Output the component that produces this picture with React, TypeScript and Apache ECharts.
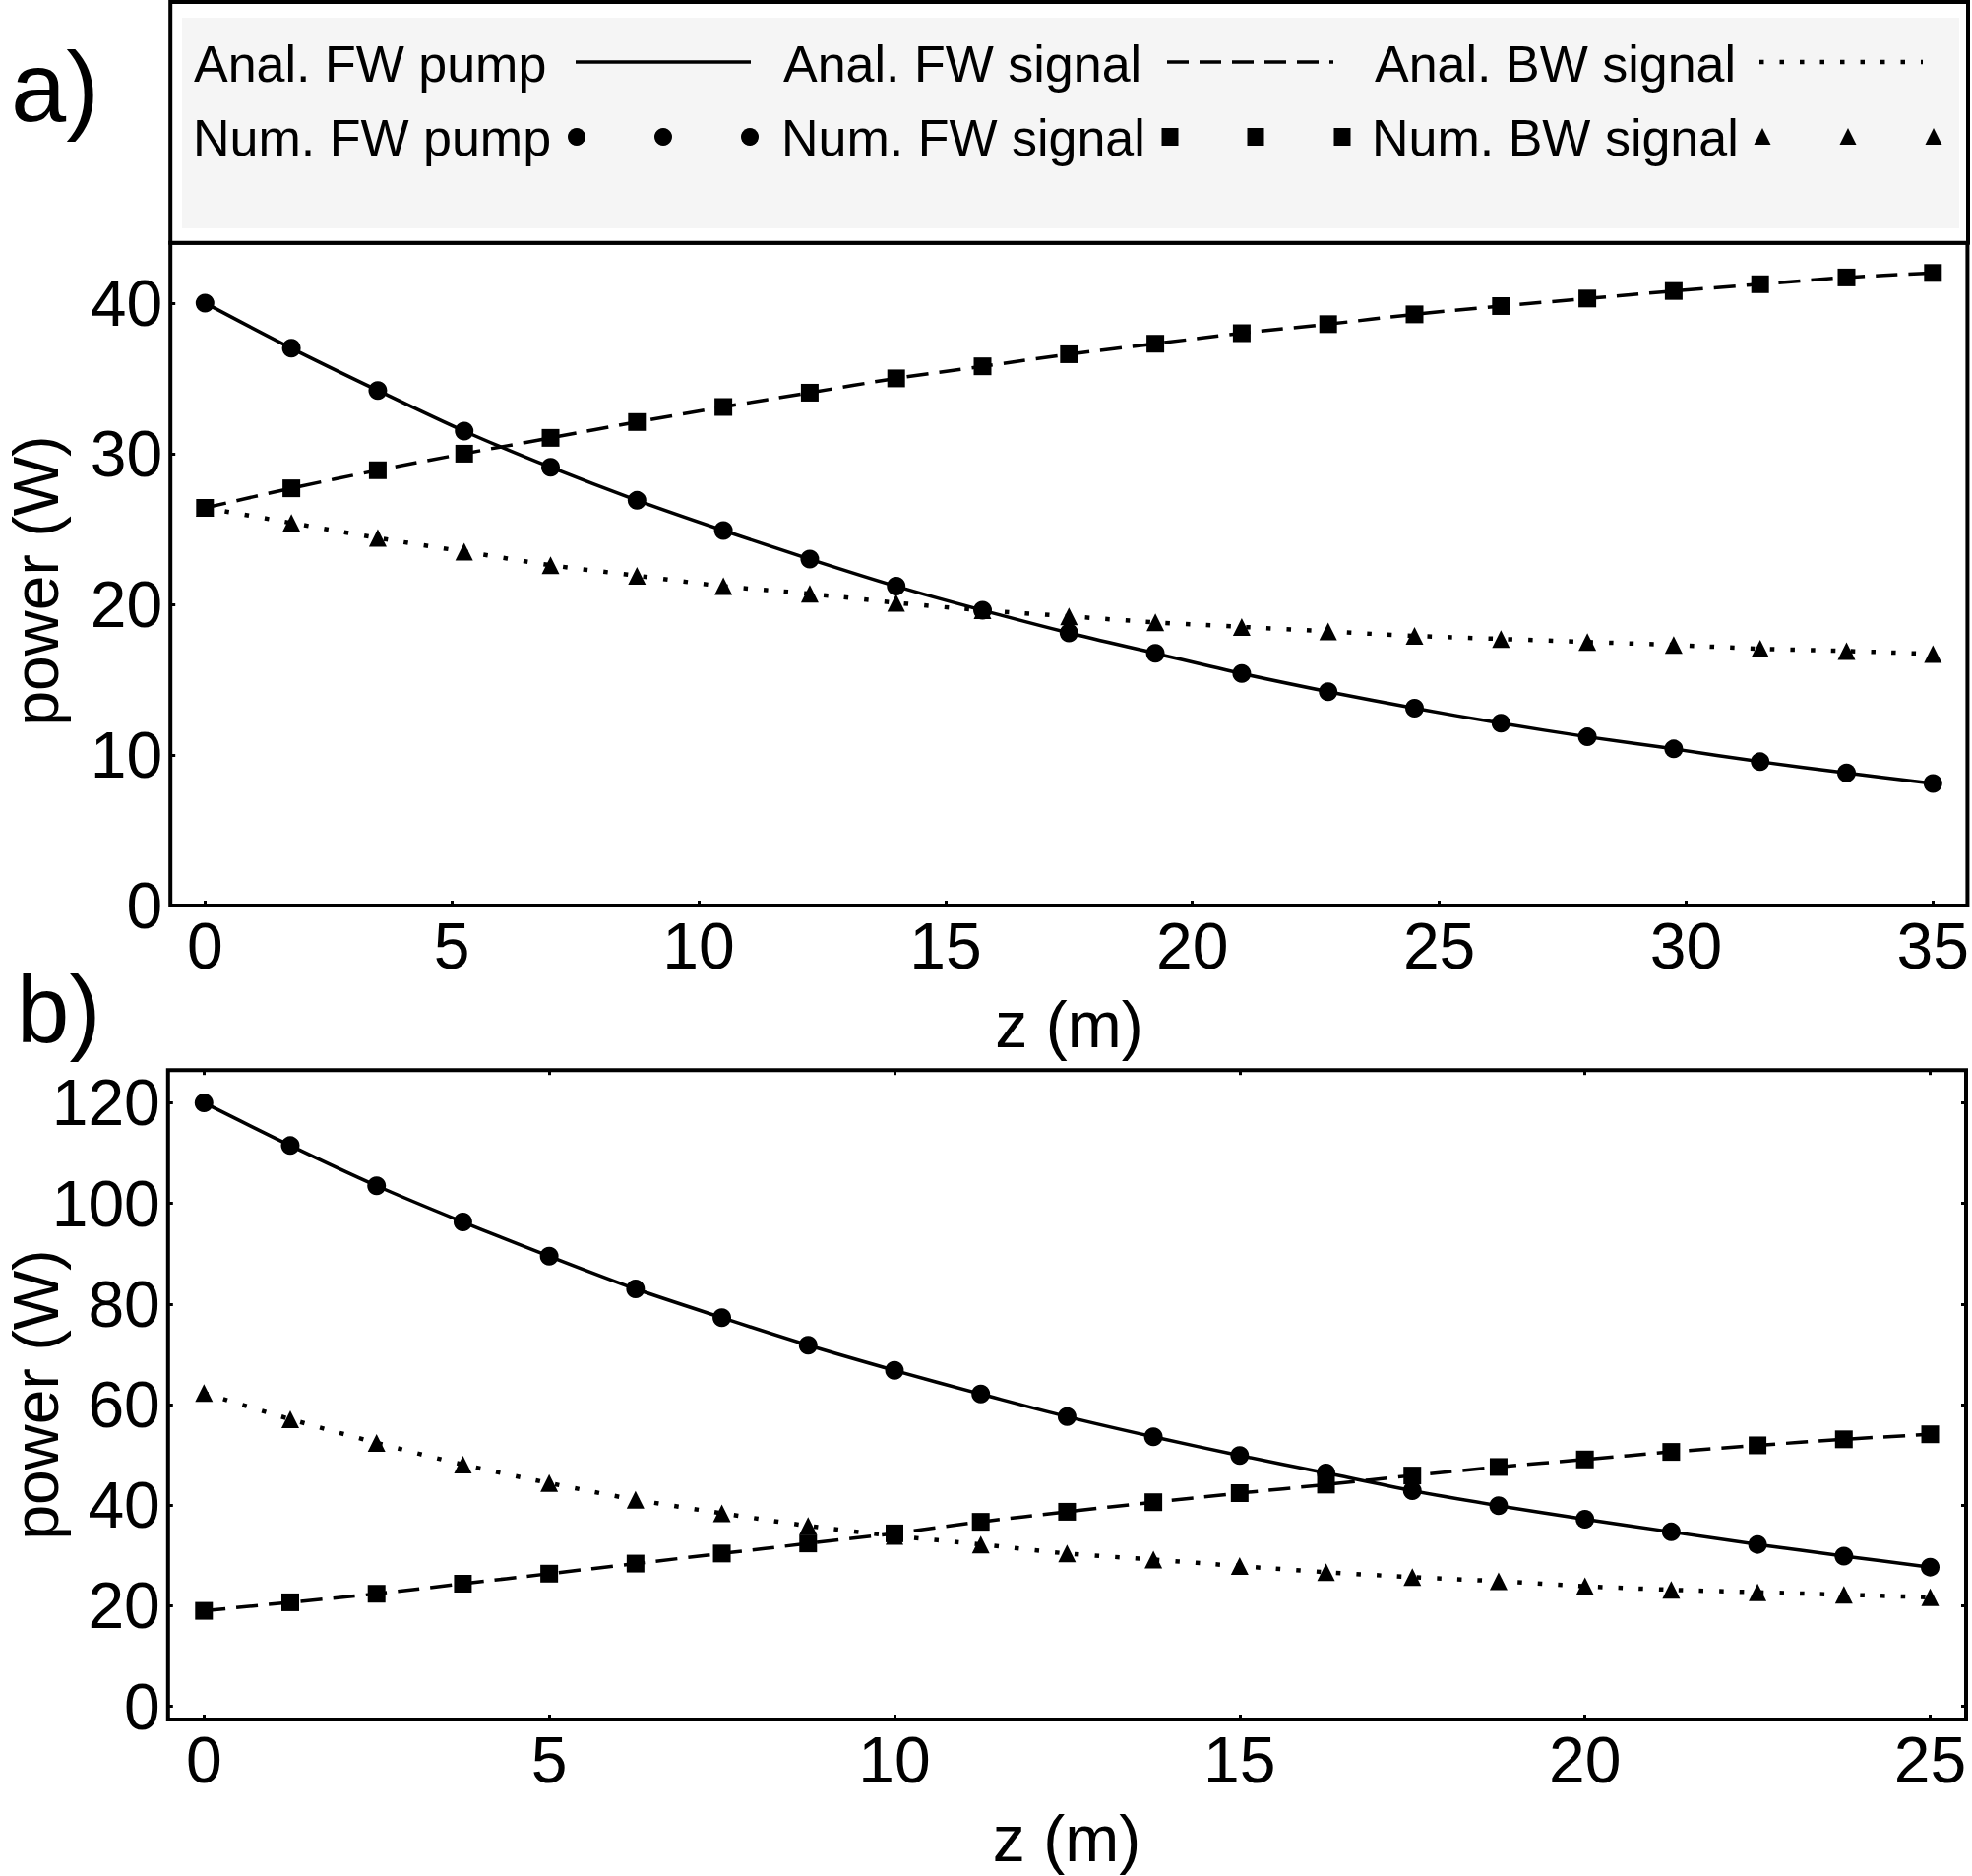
import React, { useEffect, useRef } from "react";
import * as echarts from "echarts";

// ---------- data (panel a) ----------
const zA = [0, 1.75, 3.5, 5.25, 7, 8.75, 10.5, 12.25, 14, 15.75, 17.5, 19.25, 21, 22.75, 24.5, 26.25, 28, 29.75, 31.5, 33.25, 35];
const pumpA = [40.0, 37.0, 34.2, 31.5, 29.1, 26.9, 24.9, 23.0, 21.2, 19.6, 18.1, 16.75, 15.4, 14.2, 13.1, 12.1, 11.2, 10.4, 9.55, 8.8, 8.1];
const signalA = [26.4, 27.7, 28.9, 30.0, 31.05, 32.1, 33.1, 34.05, 35.0, 35.8, 36.6, 37.3, 38.0, 38.6, 39.25, 39.8, 40.3, 40.8, 41.25, 41.7, 42.0];
const bwA = [26.4, 25.4, 24.4, 23.5, 22.6, 21.9, 21.2, 20.7, 20.1, 19.6, 19.2, 18.8, 18.5, 18.2, 17.9, 17.7, 17.5, 17.3, 17.05, 16.9, 16.7];

// ---------- data (panel b) ----------
const zB = [0, 1.25, 2.5, 3.75, 5, 6.25, 7.5, 8.75, 10, 11.25, 12.5, 13.75, 15, 16.25, 17.5, 18.75, 20, 21.25, 22.5, 23.75, 25];
const pumpB = [120, 111.5, 103.5, 96.3, 89.5, 83.0, 77.3, 71.8, 66.8, 62.1, 57.6, 53.6, 49.9, 46.4, 42.9, 39.9, 37.2, 34.7, 32.2, 29.9, 27.7];
const signalB = [19.0, 20.7, 22.4, 24.4, 26.4, 28.4, 30.4, 32.4, 34.4, 36.7, 38.7, 40.6, 42.4, 44.1, 45.9, 47.6, 49.1, 50.6, 51.9, 53.1, 54.1];
const bwB = [62.3, 57.1, 52.4, 48.1, 44.4, 41.1, 38.4, 35.9, 33.9, 32.2, 30.4, 29.2, 27.9, 26.7, 25.7, 24.9, 23.9, 23.2, 22.7, 22.2, 21.7];

// ---------- ticks ----------
const ticksXA = [0, 5, 10, 15, 20, 25, 30, 35];
const ticksYA = [0, 10, 20, 30, 40];
const ticksXB = [0, 5, 10, 15, 20, 25];
const ticksYB = [0, 20, 40, 60, 80, 100, 120];

// ---------- texts ----------
const legendRow1 = ["Anal. FW pump", "Anal. FW signal", "Anal. BW signal"];
const legendRow2 = ["Num. FW pump", "Num. FW signal", "Num. BW signal"];
const xTitle = "z (m)";
const yTitle = "power (W)";

const FONT = '"Liberation Sans", Arial, Helvetica, sans-serif';
const BLACK = "#000";
const DASH: number[] = [22, 11];
const DOT: number[] = [4.5, 16];

function pairs(x: number[], y: number[]) {
  return x.map((v, i) => [v, y[i]]);
}

function lineS(x: number[], y: number[], gi: number, type: any, width: number) {
  return {
    type: "line",
    xAxisIndex: gi === 0 ? 0 : 1,
    yAxisIndex: gi === 0 ? 0 : 1,
    data: pairs(x, y),
    showSymbol: false,
    smooth: 0.3,
    silent: true,
    lineStyle: { color: BLACK, width, type, cap: "butt" },
    z: 2,
  };
}

function scatterS(x: number[], y: number[], gi: number, symbol: string, size: any, z: number) {
  return {
    type: "scatter",
    xAxisIndex: gi === 0 ? 0 : 1,
    yAxisIndex: gi === 0 ? 0 : 1,
    data: pairs(x, y),
    symbol,
    symbolSize: size,
    silent: true,
    itemStyle: { color: BLACK, opacity: 1 },
    z,
  };
}

function valAxis(gridIndex: number, min: number, max: number, ticks: number[], position: string, showLabel: boolean) {
  return {
    type: "value",
    gridIndex,
    position,
    min,
    max,
    axisLine: { show: false, onZero: false },
    splitLine: { show: false },
    axisTick: {
      show: true,
      inside: true,
      length: 5,
      customValues: ticks,
      lineStyle: { color: BLACK, width: 3 },
    },
    axisLabel: {
      show: showLabel,
      customValues: ticks,
      color: BLACK,
      fontSize: 66,
      fontFamily: FONT,
      margin: 8,
    },
  };
}

function txt(text: string, x: number, y: number, size: number, align = "left", rotation = 0) {
  return {
    type: "text",
    x,
    y,
    rotation,
    z: 10,
    style: {
      text,
      fill: BLACK,
      fontSize: size,
      fontFamily: FONT,
      align,
      verticalAlign: "middle",
      textAlign: align,
      textVerticalAlign: "middle",
    },
  };
}

function buildLegend() {
  const els: any[] = [];
  els.push({
    type: "rect",
    z: 5,
    shape: { x: 173.2, y: 2, width: 2000 - 173.2, height: 246.7 - 2 },
    style: { fill: "#fff", stroke: BLACK, lineWidth: 4 },
  });
  els.push({
    type: "rect",
    z: 6,
    shape: { x: 185, y: 18, width: 1806, height: 214 },
    style: { fill: "#f5f5f5" },
  });
  const textX1 = [197, 796, 1397];
  const textX2 = [196, 794, 1394];
  const sample = [
    [585, 763],
    [1186, 1355],
    [1788, 1954],
  ];
  const markX = [
    [586, 674, 762],
    [1189, 1276, 1364],
    [1791, 1878, 1965],
  ];
  const dashes: any[] = [null, DASH, DOT];
  const widths = [3.5, 3.5, 4.5];
  for (let i = 0; i < 3; i++) {
    els.push(txt(legendRow1[i], textX1[i], 64.5, 52));
    els.push(txt(legendRow2[i], textX2[i], 139.5, 52));
    const ls: any = { stroke: BLACK, lineWidth: widths[i] };
    if (dashes[i]) ls.lineDash = dashes[i];
    els.push({
      type: "line",
      z: 10,
      shape: { x1: sample[i][0], y1: 63, x2: sample[i][1], y2: 63 },
      style: ls,
    });
    for (const cx of markX[i]) {
      const cy = 139;
      if (i === 0) {
        els.push({ type: "circle", z: 10, shape: { cx, cy, r: 9 }, style: { fill: BLACK } });
      } else if (i === 1) {
        els.push({ type: "rect", z: 10, shape: { x: cx - 8.5, y: cy - 9, width: 17, height: 18 }, style: { fill: BLACK } });
      } else {
        els.push({
          type: "polygon",
          z: 10,
          shape: { points: [[cx, cy - 9], [cx + 8.5, cy + 8], [cx - 8.5, cy + 8]] },
          style: { fill: BLACK },
        });
      }
    }
  }
  return els;
}

function buildOption() {
  const graphics: any[] = [
    ...buildLegend(),
    txt("a)", 11, 88, 101),
    txt("b)", 17, 1025, 96),
    txt(xTitle, 1086.5, 1041, 66, "center"),
    txt(xTitle, 1084, 1868, 66, "center"),
    txt(yTitle, 37, 590, 64, "center", Math.PI / 2),
    txt(yTitle, 37, 1417, 64, "center", Math.PI / 2),
  ];
  return {
    animation: false,
    backgroundColor: "#fff",
    grid: [
      { left: 173.2, top: 246.7, right: 4, bottom: 986, show: true, borderColor: BLACK, borderWidth: 4, backgroundColor: "transparent", containLabel: false },
      { left: 170.8, top: 1087.2, right: 6, bottom: 159, show: true, borderColor: BLACK, borderWidth: 4, backgroundColor: "transparent", containLabel: false },
    ],
    xAxis: [
      valAxis(0, -0.7, 35.7, ticksXA, "bottom", true),
      valAxis(1, -0.52, 25.52, ticksXB, "bottom", true),
      valAxis(1, -0.52, 25.52, ticksXB, "top", false),
    ],
    yAxis: [
      valAxis(0, 0, 44, ticksYA, "left", true),
      valAxis(1, -2.6, 126.5, ticksYB, "left", true),
      valAxis(1, -2.6, 126.5, ticksYB, "right", false),
    ],
    graphic: { elements: graphics },
    series: [
      lineS(zA, pumpA, 0, "solid", 3.5),
      lineS(zA, signalA, 0, DASH, 3.5),
      lineS(zA, bwA, 0, DOT, 4.5),
      scatterS(zA, bwA, 0, "triangle", [18, 18], 3),
      scatterS(zA, signalA, 0, "rect", 18, 4),
      scatterS(zA, pumpA, 0, "circle", 19, 5),
      lineS(zB, pumpB, 1, "solid", 3.5),
      lineS(zB, signalB, 1, DASH, 3.5),
      lineS(zB, bwB, 1, DOT, 4.5),
      scatterS(zB, bwB, 1, "triangle", [18, 18], 3),
      scatterS(zB, signalB, 1, "rect", 18, 4),
      scatterS(zB, pumpB, 1, "circle", 19, 5),
    ],
  };
}

export default function App() {
  const ref = useRef<HTMLDivElement>(null);
  useEffect(() => {
    document.body.style.margin = "0";
    const chart = echarts.init(ref.current as HTMLDivElement, null, { renderer: "svg" });
    chart.setOption(buildOption() as any);
    return () => chart.dispose();
  }, []);
  return <div ref={ref} style={{ width: 2004, height: 1906 }} />;
}
